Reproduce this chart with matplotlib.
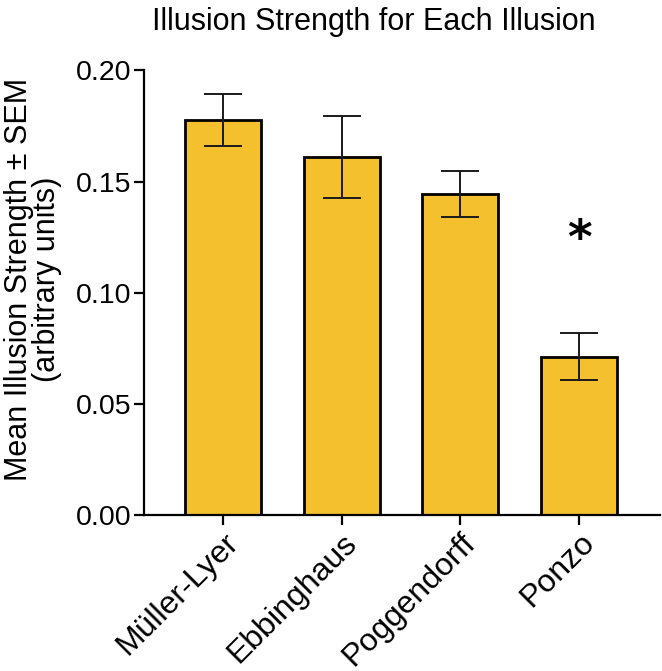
import matplotlib
matplotlib.use("Agg")
import matplotlib.pyplot as plt

plt.rcParams['font.family'] = ['Liberation Sans', 'DejaVu Sans']

categories = ["Müller-Lyer", "Ebbinghaus", "Poggendorff", "Ponzo"]
means = [0.1777, 0.1611, 0.1445, 0.0713]
sems = [0.0116, 0.0184, 0.0102, 0.0105]
yticks = [0.00, 0.05, 0.10, 0.15, 0.20]
ytick_labels = ["0.00", "0.05", "0.10", "0.15", "0.20"]
sig_index = 3
sig_y = 0.1235

fig = plt.figure(figsize=(6.62, 6.71), dpi=100)
ax = fig.add_axes([0.2175, 0.232, 0.7795, 0.663])

x = list(range(len(categories)))
ax.bar(x, means, width=0.64, color="#F4C02E", edgecolor="black", linewidth=2.0, zorder=2)
ax.errorbar(x, means, yerr=sems, fmt="none", ecolor="#1a1a1a", elinewidth=1.4,
            capsize=14, capthick=1.4, zorder=3)

ax.text(x[sig_index], sig_y, "*", ha="center", va="center", fontsize=34,
        fontweight="bold", family="DejaVu Sans")

ax.set_xlim(-0.665, 3.68)
ax.set_ylim(0, 0.20)
ax.set_yticks(yticks)
ax.set_yticklabels(ytick_labels, fontsize=20.5)
ax.set_xticks(x)
ax.set_xticklabels(categories, fontsize=23, rotation=45, ha="right",
                   rotation_mode="anchor", va="top")

for s in ["top", "right"]:
    ax.spines[s].set_visible(False)
for s in ["left", "bottom"]:
    ax.spines[s].set_linewidth(1.6)
ax.tick_params(axis="both", width=1.6, length=7, pad=2)

ax.set_ylabel("Mean Illusion Strength ± SEM\n(arbitrary units)", fontsize=22,
              linespacing=0.92)
ax.yaxis.set_label_coords(-0.158, 0.53)

fig.text(0.565, 0.967, "Illusion Strength for Each Illusion", ha="center",
         va="center", fontsize=22)

fig.savefig("out.png", dpi=100)
